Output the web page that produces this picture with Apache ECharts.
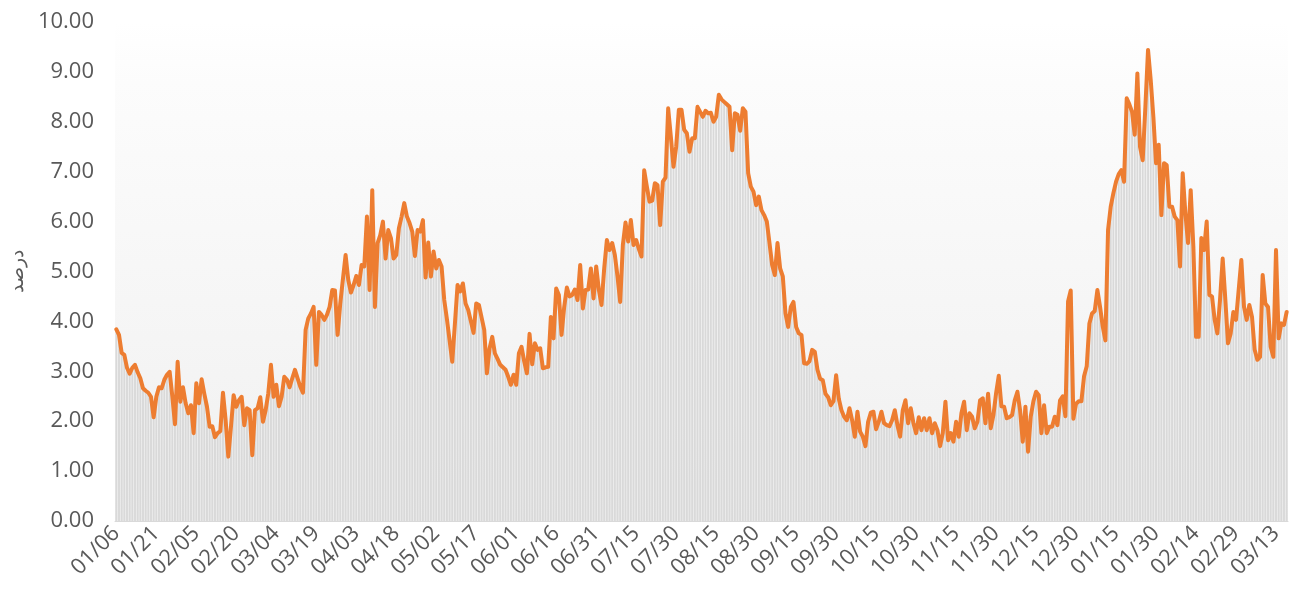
<!DOCTYPE html>
<html>
<head>
<meta charset="utf-8">
<title>درصد</title>
<script src="https://cdn.jsdelivr.net/npm/echarts@6/dist/echarts.min.js"></script>
<style>
  html, body { margin: 0; padding: 0; background: #fff; }
  #chart { width: 1289px; height: 596px; }
</style>
</head>
<body>
<div id="chart"></div>
<script>
// Persian calendar days, starting 01/06 (leap year: month 12 has 30 days)
const startMonth = 1
const startDay = 6
const monthLengths = [31, 31, 31, 31, 31, 31, 30, 30, 30, 30, 30, 30]

const values = [
  3.84, 3.73, 3.37, 3.33, 3.07, 2.95, 3.07, 3.13, 2.98, 2.86,
  2.66, 2.61, 2.57, 2.49, 2.08, 2.49, 2.68, 2.66, 2.83, 2.93,
  2.99, 2.50, 1.94, 3.19, 2.39, 2.68, 2.36, 2.16, 2.32, 1.76,
  2.76, 2.36, 2.84, 2.55, 2.29, 1.89, 1.90, 1.68, 1.76, 1.80,
  2.57, 2.02, 1.29, 1.89, 2.52, 2.29, 2.42, 2.49, 1.92, 2.26,
  2.22, 1.32, 2.22, 2.26, 2.48, 1.99, 2.22, 2.56, 3.13, 2.49,
  2.73, 2.30, 2.49, 2.89, 2.83, 2.68, 2.86, 3.03, 2.86, 2.69,
  2.57, 3.83, 4.06, 4.16, 4.29, 3.13, 4.19, 4.13, 4.03, 4.13,
  4.29, 4.63, 4.62, 3.73, 4.36, 4.85, 5.33, 4.83, 4.58, 4.73,
  4.91, 4.73, 5.13, 5.10, 6.10, 4.63, 6.63, 4.29, 5.57, 5.73,
  6.00, 5.26, 5.83, 5.67, 5.26, 5.33, 5.87, 6.10, 6.37, 6.10,
  5.97, 5.80, 5.31, 5.83, 5.80, 6.03, 4.88, 5.58, 4.90, 5.40,
  5.06, 5.23, 5.10, 4.43, 4.05, 3.62, 3.19, 3.95, 4.73, 4.60,
  4.76, 4.36, 4.23, 4.00, 3.77, 4.36, 4.33, 4.08, 3.83, 2.96,
  3.46, 3.69, 3.36, 3.25, 3.13, 3.08, 3.03, 2.89, 2.73, 2.93,
  2.73, 3.36, 3.49, 3.20, 2.96, 3.75, 3.14, 3.56, 3.43, 3.46,
  3.06, 3.08, 3.09, 4.09, 3.66, 4.66, 4.53, 3.73, 4.29, 4.68,
  4.50, 4.53, 4.64, 4.43, 5.13, 4.26, 4.63, 4.64, 5.06, 4.46,
  5.10, 4.63, 4.33, 5.06, 5.63, 5.43, 5.57, 5.33, 4.90, 4.39,
  5.53, 5.98, 5.60, 6.03, 5.53, 5.63, 5.45, 5.30, 7.03, 6.70,
  6.40, 6.42, 6.77, 6.73, 5.93, 6.80, 6.88, 8.27, 7.70, 7.10,
  7.50, 8.24, 8.24, 7.84, 7.77, 7.40, 7.67, 7.67, 8.30, 8.20,
  8.10, 8.22, 8.17, 8.18, 8.00, 8.10, 8.54, 8.45, 8.40, 8.35,
  8.30, 7.43, 8.17, 8.14, 7.82, 8.27, 8.20, 6.97, 6.70, 6.60,
  6.33, 6.50, 6.23, 6.13, 6.00, 5.57, 5.13, 4.93, 5.57, 5.06,
  4.90, 4.16, 3.89, 4.29, 4.39, 3.89, 3.76, 3.73, 3.16, 3.15,
  3.20, 3.43, 3.39, 3.03, 2.85, 2.82, 2.55, 2.48, 2.32, 2.40,
  2.92, 2.45, 2.22, 2.09, 2.02, 2.26, 2.02, 1.69, 2.19, 1.79,
  1.69, 1.50, 1.99, 2.17, 2.19, 1.84, 1.99, 2.19, 1.96, 1.92,
  1.90, 2.02, 2.22, 1.92, 1.69, 2.22, 2.42, 1.96, 2.26, 1.96,
  1.76, 2.08, 1.82, 2.06, 1.82, 2.06, 1.76, 1.96, 1.82, 1.50,
  1.76, 2.39, 1.62, 1.76, 1.59, 1.99, 1.69, 2.16, 2.39, 1.82,
  2.16, 2.09, 1.86, 1.99, 2.42, 2.46, 1.96, 2.55, 1.86, 2.12,
  2.56, 2.91, 2.30, 2.29, 2.06, 2.08, 2.12, 2.42, 2.59, 2.22,
  1.59, 2.29, 1.39, 2.09, 2.40, 2.59, 2.52, 1.76, 2.32, 1.76,
  1.89, 1.89, 2.09, 1.92, 2.42, 2.50, 2.10, 4.40, 4.62, 2.05,
  2.35, 2.40, 2.40, 2.90, 3.10, 3.96, 4.16, 4.21, 4.63, 4.29,
  3.90, 3.62, 5.83, 6.30, 6.57, 6.80, 6.95, 7.03, 6.80, 8.47,
  8.35, 8.20, 7.74, 8.97, 7.50, 7.23, 8.30, 9.44, 8.84, 8.10,
  7.17, 7.54, 6.13, 7.17, 7.13, 6.30, 6.30, 6.10, 6.03, 5.10,
  6.97, 6.17, 5.57, 6.63, 5.50, 3.69, 3.69, 5.67, 5.43, 6.00,
  4.53, 4.50, 4.03, 3.76, 4.43, 5.26, 4.43, 3.56, 3.76, 4.19,
  4.03, 4.63, 5.23, 4.29, 4.03, 4.33, 4.09, 3.43, 3.23, 3.29,
  4.93, 4.36, 4.29, 3.49, 3.29, 5.43, 3.66, 3.96, 3.93, 4.19
]

const yTicks = [0, 1, 2, 3, 4, 5, 6, 7, 8, 9, 10]
const yName = 'درصد'

function pad(n) {
  return n < 10 ? '0' + n : '' + n
}

// one label per day, MM/DD
const categories = []
let m = startMonth
let d = startDay
for (let i = 0; i < values.length; i++) {
  categories.push(pad(m) + '/' + pad(d))
  d++
  if (d > monthLengths[m - 1]) {
    d = 1
    m = m === 12 ? 1 : m + 1
  }
}

const textColor = '#595959'
const fontFamily = 'Open Sans'

const chart = echarts.init(document.getElementById('chart'))
chart.setOption({
  animation: false,
  grid: {
    left: 113,
    right: 1,
    top: 22,
    bottom: 75,
    show: true,
    borderWidth: 0,
    backgroundColor: new echarts.graphic.LinearGradient(0, 0, 0, 1, [
      { offset: 0, color: '#ffffff' },
      { offset: 0.12, color: '#fcfcfc' },
      { offset: 1, color: '#f0f0f0' }
    ])
  },
  xAxis: {
    type: 'category',
    data: categories,
    boundaryGap: true,
    axisTick: { show: false },
    axisLine: {
      lineStyle: { color: '#d9d9d9', width: 1 }
    },
    axisLabel: {
      interval: 14,
      rotate: 45,
      margin: 9,
      color: textColor,
      fontFamily: fontFamily,
      fontSize: 22
    },
    splitLine: { show: false }
  },
  yAxis: {
    type: 'value',
    min: yTicks[0],
    max: yTicks[yTicks.length - 1],
    interval: 1,
    name: yName,
    nameLocation: 'middle',
    nameRotate: 90,
    nameGap: 88,
    nameTextStyle: {
      color: textColor,
      fontFamily: 'Noto Sans',
      fontSize: 19
    },
    axisLine: { show: false },
    axisTick: { show: false },
    splitLine: { show: false },
    axisLabel: {
      margin: 21,
      color: textColor,
      fontFamily: fontFamily,
      fontSize: 22,
      formatter: v => v.toFixed(2)
    }
  },
  series: [
    {
      type: 'bar',
      data: values,
      silent: true,
      barCategoryGap: '28%',
      itemStyle: { color: '#d9d9d9' }
    },
    {
      type: 'line',
      data: values,
      silent: true,
      symbol: 'none',
      z: 5,
      lineStyle: {
        color: '#ed7d31',
        width: 4,
        cap: 'round',
        join: 'round'
      }
    }
  ]
})
</script>
</body>
</html>
